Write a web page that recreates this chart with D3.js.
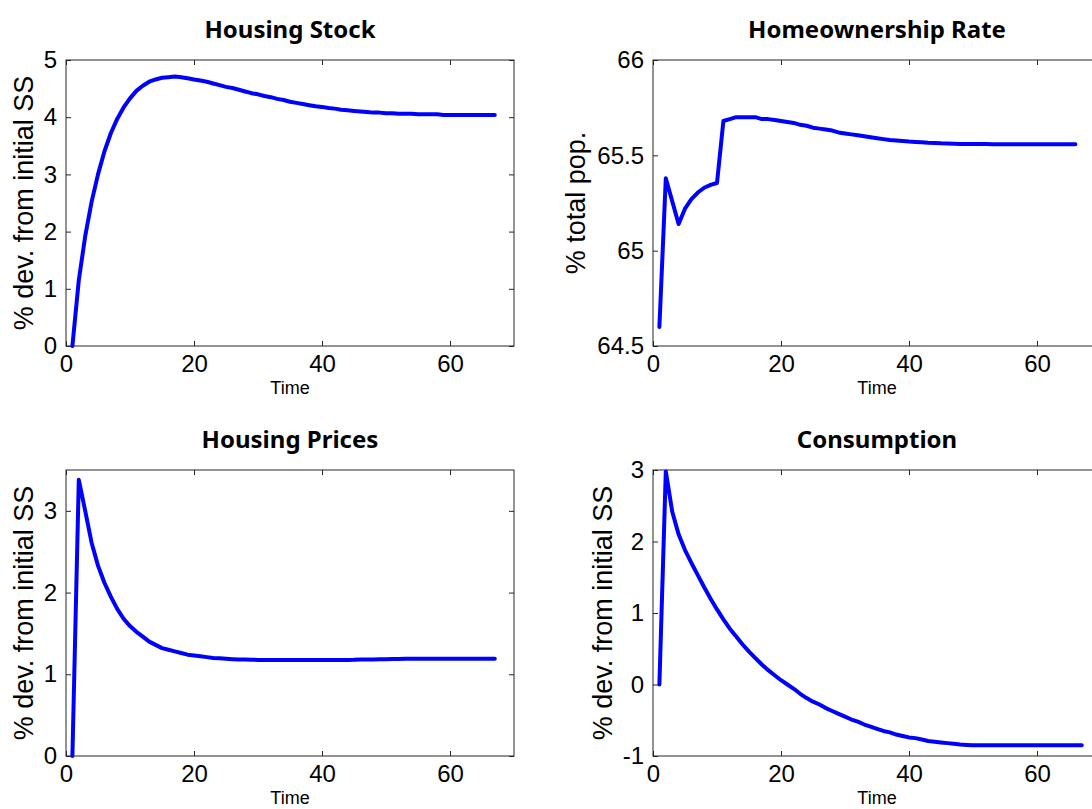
<!DOCTYPE html>
<html>
<head>
<meta charset="utf-8">
<script src="https://cdn.jsdelivr.net/npm/d3@7"></script>
<style>
  body { margin: 0; background: #fff; }
  svg { display: block; }
</style>
</head>
<body>
<div id="chart"></div>
<script>
// data, t = 1..67
const housingStock = [
  0, 1.15, 1.92, 2.52, 3.00, 3.40, 3.72, 3.97, 4.17, 4.33,
  4.46, 4.55, 4.62, 4.66, 4.69, 4.70, 4.71, 4.70, 4.68, 4.66,
  4.64, 4.62, 4.59, 4.56, 4.53, 4.51, 4.48, 4.45, 4.42, 4.40,
  4.37, 4.35, 4.32, 4.30, 4.27, 4.25, 4.23, 4.21, 4.19, 4.18,
  4.16, 4.15, 4.13, 4.12, 4.11, 4.10, 4.09, 4.08, 4.08, 4.07,
  4.07, 4.06, 4.06, 4.06, 4.05, 4.05, 4.05, 4.05, 4.04, 4.04,
  4.04, 4.04, 4.04, 4.04, 4.04, 4.04, 4.04
];
const homeownership = [
  64.60, 65.38, 65.26, 65.14, 65.22, 65.27, 65.305, 65.33, 65.345, 65.355,
  65.68, 65.69, 65.70, 65.70, 65.70, 65.70, 65.69, 65.69, 65.685, 65.68,
  65.675, 65.67, 65.66, 65.655, 65.645, 65.64, 65.635, 65.63, 65.62, 65.615,
  65.61, 65.605, 65.60, 65.595, 65.59, 65.585, 65.58, 65.578, 65.575, 65.572,
  65.57, 65.568, 65.566, 65.565, 65.563, 65.562, 65.561, 65.56, 65.56, 65.559,
  65.559, 65.559, 65.558, 65.558, 65.558, 65.558, 65.558, 65.558, 65.558, 65.558,
  65.558, 65.558, 65.558, 65.558, 65.558, 65.558
];
const housingPrices = [
  0, 3.38, 3.00, 2.61, 2.33, 2.12, 1.95, 1.80, 1.68, 1.59,
  1.52, 1.46, 1.40, 1.36, 1.32, 1.30, 1.28, 1.26, 1.24, 1.23,
  1.22, 1.21, 1.20, 1.195, 1.19, 1.185, 1.18, 1.18, 1.178, 1.176,
  1.175, 1.175, 1.175, 1.175, 1.175, 1.175, 1.175, 1.175, 1.175, 1.175,
  1.175, 1.175, 1.175, 1.176, 1.177, 1.18, 1.18, 1.182, 1.183, 1.185,
  1.186, 1.188, 1.19, 1.19, 1.19, 1.19, 1.19, 1.19, 1.19, 1.19,
  1.19, 1.19, 1.19, 1.19, 1.19, 1.19, 1.19
];
const consumption = [
  0, 2.98, 2.42, 2.10, 1.88, 1.70, 1.53, 1.36, 1.20, 1.05,
  0.91, 0.78, 0.67, 0.56, 0.46, 0.37, 0.28, 0.20, 0.13, 0.06,
  0.00, -0.06, -0.13, -0.19, -0.24, -0.28, -0.33, -0.37, -0.41, -0.45,
  -0.49, -0.52, -0.56, -0.59, -0.62, -0.65, -0.67, -0.70, -0.72, -0.74,
  -0.75, -0.77, -0.79, -0.80, -0.81, -0.82, -0.83, -0.84, -0.845, -0.85,
  -0.85, -0.85, -0.85, -0.85, -0.85, -0.85, -0.85, -0.85, -0.85, -0.85,
  -0.85, -0.85, -0.85, -0.85, -0.85, -0.85, -0.85
];

const xTicks = [0, 20, 40, 60];
const stockTicks = [0, 1, 2, 3, 4, 5];
const ownTicks = [64.5, 65, 65.5, 66];
const priceTicks = [0, 1, 2, 3];
const consTicks = [-1, 0, 1, 2, 3];

const titles = ["Housing Stock", "Homeownership Rate", "Housing Prices", "Consumption"];
const yLabels = ["% dev. from initial SS", "% total pop.", "% dev. from initial SS", "% dev. from initial SS"];

const W = 1092, H = 809;
const pw = 448, ph = 286;

const svg = d3.select("#chart").append("svg").attr("width", W).attr("height", H);

const panels = [
  { x0: 66,  y0: 60,  data: housingStock,  yDom: [0, 5],     ticks: stockTicks, title: titles[0], ylab: yLabels[0], labX: 24 },
  { x0: 653, y0: 60,  data: homeownership, yDom: [64.5, 66], ticks: ownTicks,   title: titles[1], ylab: yLabels[1], labX: 576 },
  { x0: 66,  y0: 470, data: housingPrices, yDom: [0, 3.5],   ticks: priceTicks, title: titles[2], ylab: yLabels[2], labX: 24 },
  { x0: 653, y0: 470, data: consumption,   yDom: [-1, 3],    ticks: consTicks,  title: titles[3], ylab: yLabels[3], labX: 603 }
];

const tickFont = "'Liberation Sans', Arial, sans-serif";

panels.forEach(p => {
  const g = svg.append("g").attr("transform", "translate(" + p.x0 + "," + p.y0 + ")");
  const x = d3.scaleLinear().domain([0, 70]).range([0, pw]);
  const y = d3.scaleLinear().domain(p.yDom).range([ph, 0]);

  // bottom axis with labels, inward ticks
  const bx = g.append("g").attr("transform", "translate(0," + ph + ")")
    .call(d3.axisBottom(x).tickValues(xTicks).tickSizeInner(-5).tickSizeOuter(0).tickPadding(9).tickFormat(d => String(d)));
  // left axis
  const ly = g.append("g")
    .call(d3.axisLeft(y).tickValues(p.ticks).tickSizeInner(-5).tickSizeOuter(0).tickPadding(9).tickFormat(d => String(d)));
  // top and right ticks, no labels
  const tx = g.append("g")
    .call(d3.axisTop(x).tickValues(xTicks).tickSizeInner(-5).tickSizeOuter(0).tickFormat(""));
  const ry = g.append("g").attr("transform", "translate(" + pw + ",0)")
    .call(d3.axisRight(y).tickValues(p.ticks).tickSizeInner(-5).tickSizeOuter(0).tickFormat(""));

  [bx, ly, tx, ry].forEach(a => {
    a.select(".domain").remove();
    a.selectAll(".tick line").attr("stroke", "#262626");
    a.selectAll("text").attr("fill", "#000").style("font-family", tickFont).style("font-size", "24px");
  });
  bx.selectAll("text").attr("dy", "0.72em");

  g.append("rect").attr("width", pw).attr("height", ph)
    .attr("fill", "none").attr("stroke", "#262626").attr("stroke-width", 1);

  const line = d3.line().x((d, i) => x(i + 1)).y(d => y(d));
  g.append("path").datum(p.data)
    .attr("d", line)
    .attr("fill", "none")
    .attr("stroke", "#0000ff")
    .attr("stroke-width", 4)
    .attr("stroke-linejoin", "round")
    .attr("stroke-linecap", "round");

  // title
  svg.append("text")
    .attr("x", p.x0 + pw / 2).attr("y", p.y0 - 22)
    .attr("text-anchor", "middle")
    .style("font-family", "'Comic Sans MS', 'Noto Sans', sans-serif")
    .style("font-weight", "bold").style("font-size", "24px")
    .text(p.title);

  // x label
  svg.append("text")
    .attr("x", p.x0 + pw / 2).attr("y", p.y0 + ph + 48)
    .attr("text-anchor", "middle")
    .style("font-family", tickFont).style("font-size", "18px")
    .text("Time");

  // y label
  svg.append("text")
    .attr("transform", "translate(" + p.labX + "," + (p.y0 + ph / 2) + ") rotate(-90)")
    .attr("text-anchor", "middle")
    .attr("dy", "0.35em")
    .style("font-family", tickFont).style("font-size", "27px")
    .text(p.ylab);
});
</script>
</body>
</html>
